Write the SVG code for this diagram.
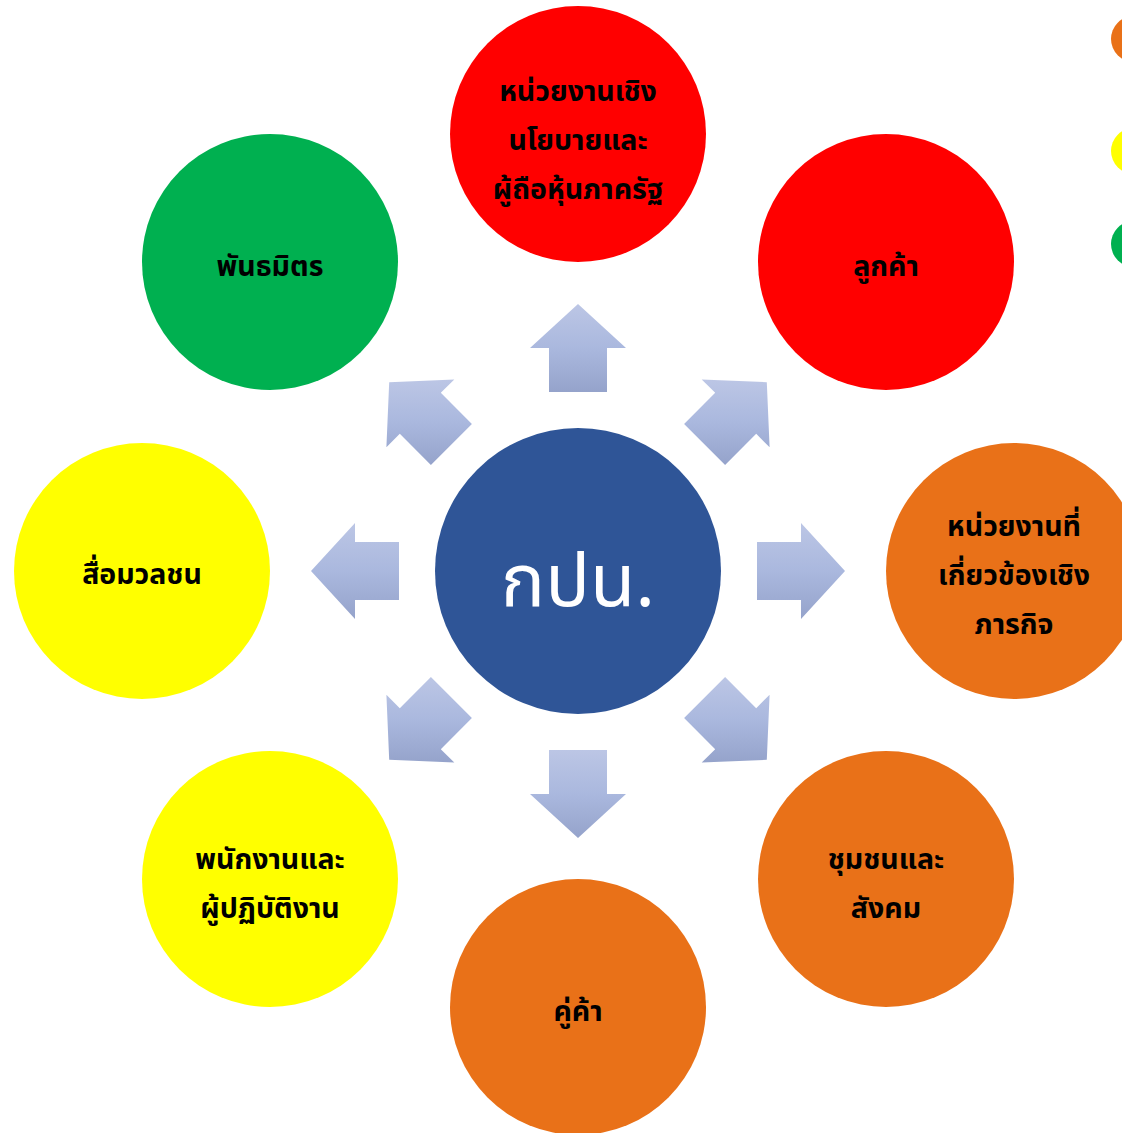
<svg xmlns="http://www.w3.org/2000/svg" width="1122" height="1133" viewBox="0 0 1122 1133">
<defs>
<linearGradient id="ag" x1="0" y1="0" x2="0" y2="1">
<stop offset="0" stop-color="#BCC6E5"/>
<stop offset="0.5" stop-color="#AAB8DE"/>
<stop offset="1" stop-color="#95A3CB"/>
</linearGradient>
<style>
.arrow{fill:url(#ag);}
.t{font-family:"Noto Sans Thai","Leelawadee UI","Tahoma","Noto Sans",sans-serif;font-weight:bold;font-size:28.5px;fill:#000;text-anchor:middle;}
.red{fill:#FF0000;}
.org{fill:#E97118;}
.yel{fill:#FFFF00;}
.grn{fill:#00B050;}
</style>
</defs>
<rect width="1122" height="1133" fill="#FFFFFF"/>
<g id="connectors">
<polygon class="arrow" points="549,392 549,348 530,348 578,304 626,348 607,348 607,392"/>
<polygon class="arrow" points="684.1,423.9 715.2,392.8 701.7,379.4 766.8,382.2 769.6,447.3 756.2,433.8 725.1,464.9"/>
<polygon class="arrow" points="757,542 801,542 801,523 845,571 801,619 801,600 757,600"/>
<polygon class="arrow" points="725.1,677.1 756.2,708.2 769.6,694.7 766.8,759.8 701.7,762.6 715.2,749.2 684.1,718.1"/>
<polygon class="arrow" points="607,750 607,794 626,794 578,838 530,794 549,794 549,750"/>
<polygon class="arrow" points="471.9,718.1 440.8,749.2 454.3,762.6 389.2,759.8 386.4,694.7 399.8,708.2 430.9,677.1"/>
<polygon class="arrow" points="399,600 355,600 355,619 311,571 355,523 355,542 399,542"/>
<polygon class="arrow" points="430.9,464.9 399.8,433.8 386.4,447.3 389.2,382.2 454.3,379.4 440.8,392.8 471.9,423.9"/>
</g>
<g id="center">
<circle cx="578" cy="571" r="143" fill="#2F5597"/>
<text x="578" y="606" style="font-family:'Noto Sans Thai','Leelawadee UI','Tahoma','Noto Sans',sans-serif;font-size:74px;fill:#FFFFFF;text-anchor:middle;">กปน.</text>
</g>
<g id="node-policy">
<circle class="red" cx="578" cy="134" r="128"/>
<text class="t" x="578" y="101">หน่วยงานเชิง</text>
<text class="t" x="578" y="150">นโยบายและ</text>
<text class="t" x="578" y="199">ผู้ถือหุ้นภาครัฐ</text>
</g>
<g id="node-customer">
<circle class="red" cx="886" cy="262" r="128"/>
<text class="t" x="886" y="276">ลูกค้า</text>
</g>
<g id="node-mission">
<circle class="org" cx="1014" cy="571" r="128"/>
<text class="t" x="1014" y="536">หน่วยงานที่</text>
<text class="t" x="1014" y="585">เกี่ยวข้องเชิง</text>
<text class="t" x="1014" y="634">ภารกิจ</text>
</g>
<g id="node-community">
<circle class="org" cx="886" cy="879" r="128"/>
<text class="t" x="886" y="869">ชุมชนและ</text>
<text class="t" x="886" y="918">สังคม</text>
</g>
<g id="node-supplier">
<circle class="org" cx="578" cy="1007" r="128"/>
<text class="t" x="578" y="1021">คู่ค้า</text>
</g>
<g id="node-employee">
<circle class="yel" cx="270" cy="879" r="128"/>
<text class="t" x="270" y="869">พนักงานและ</text>
<text class="t" x="270" y="918">ผู้ปฏิบัติงาน</text>
</g>
<g id="node-media">
<circle class="yel" cx="142" cy="571" r="128"/>
<text class="t" x="142" y="584">สื่อมวลชน</text>
</g>
<g id="node-partner">
<circle class="grn" cx="270" cy="262" r="128"/>
<text class="t" x="270" y="276">พันธมิตร</text>
</g>
<g id="legend">
<circle class="org" cx="1134" cy="39" r="23"/>
<circle class="yel" cx="1134" cy="151" r="23"/>
<circle class="grn" cx="1134" cy="244" r="23"/>
</g>
</svg>
